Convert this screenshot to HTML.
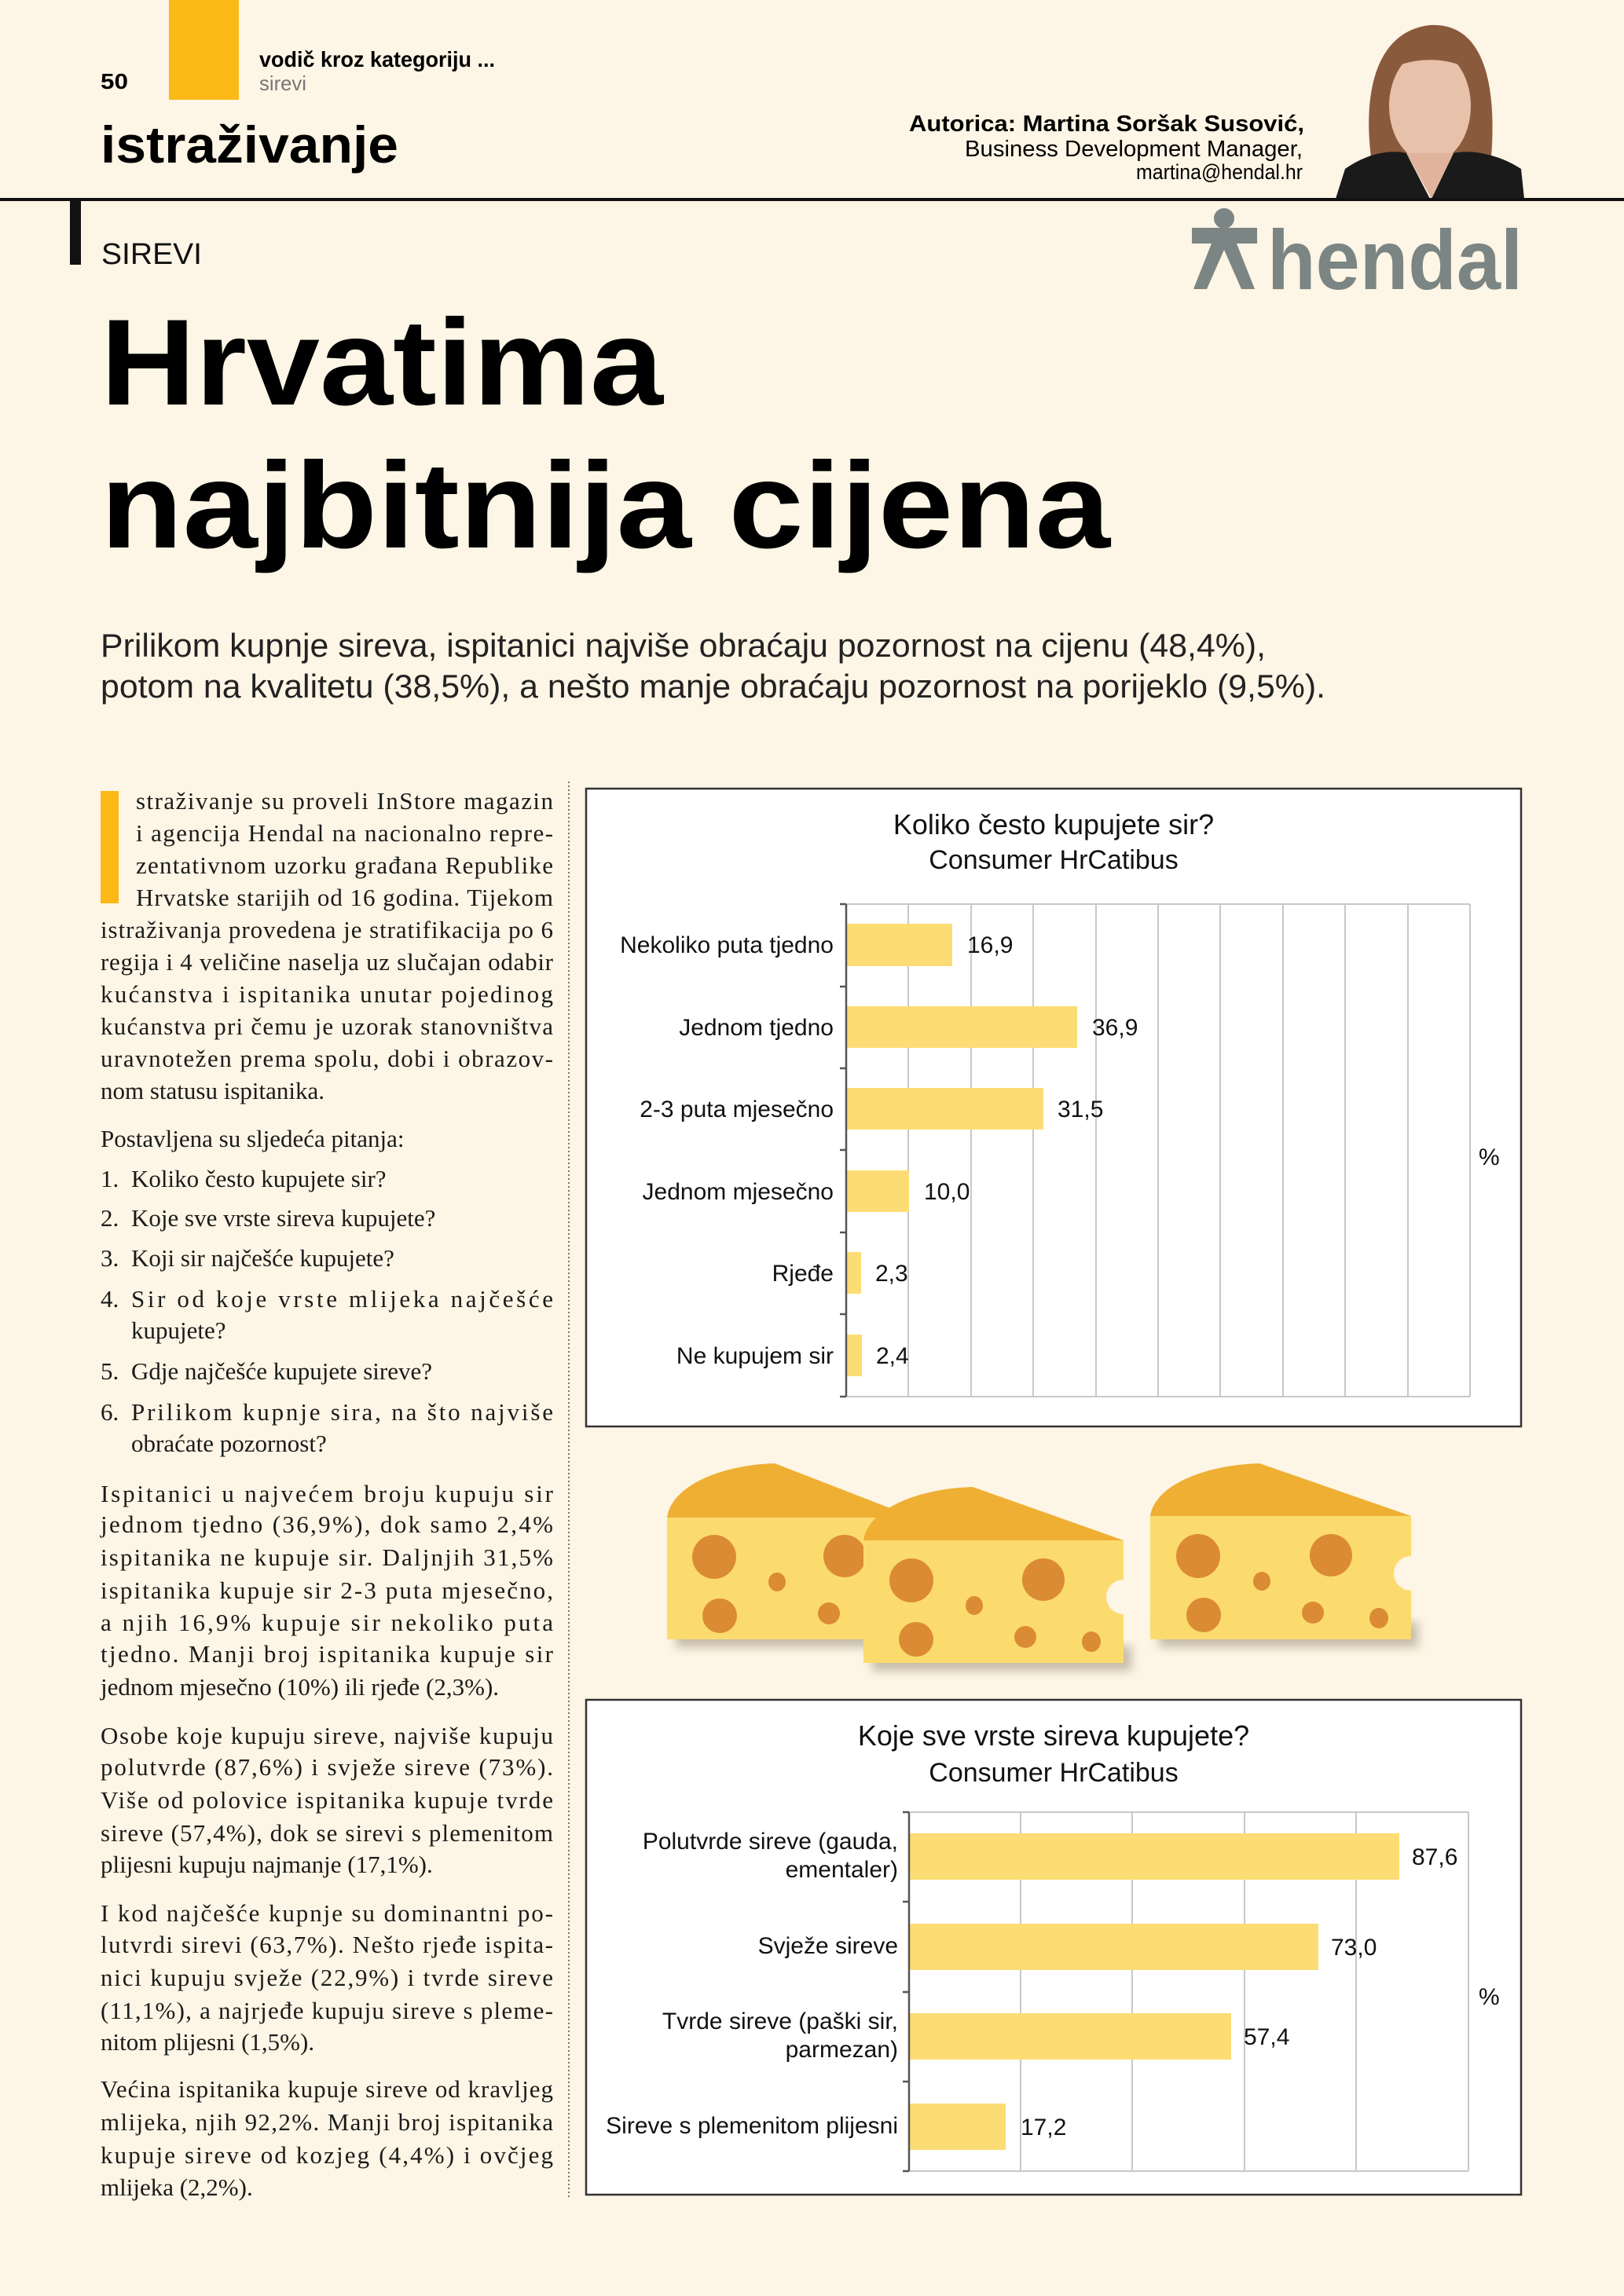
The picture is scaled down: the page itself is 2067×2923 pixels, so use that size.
<!DOCTYPE html>
<html><head><meta charset="utf-8"><style>
html,body{margin:0;padding:0;background:#fdf5e5;}
svg{display:block}
.s{font-family:"Liberation Sans",sans-serif}
.b{font-family:"Liberation Serif",serif;font-size:31px;fill:#1a1a1a}
.cl{font-family:"Liberation Sans",sans-serif;font-size:30px;fill:#111}
</style></head><body>
<svg width="2067" height="2923" viewBox="0 0 2067 2923" xmlns="http://www.w3.org/2000/svg">
<rect width="2067" height="2923" fill="#fdf5e5"/>
<defs><filter id="sh" x="-20%" y="-20%" width="140%" height="160%"><feGaussianBlur stdDeviation="6"/></filter></defs>
<!-- header -->
<rect x="215" y="0" width="89" height="127" fill="#fbb917"/>
<text class="s" x="128" y="113" font-size="28" font-weight="bold" textLength="35" lengthAdjust="spacingAndGlyphs">50</text>
<text class="s" x="330" y="85" font-size="28" font-weight="bold" textLength="300" lengthAdjust="spacingAndGlyphs">vodič kroz kategoriju ...</text>
<text class="s" x="330" y="115" font-size="26" fill="#777" textLength="60" lengthAdjust="spacingAndGlyphs">sirevi</text>
<text class="s" x="128" y="207" font-size="66" font-weight="bold" textLength="379" lengthAdjust="spacingAndGlyphs">istraživanje</text>
<text class="s" x="1660" y="167" font-size="29" font-weight="bold" text-anchor="end" textLength="503" lengthAdjust="spacingAndGlyphs">Autorica: Martina Soršak Susović,</text>
<text class="s" x="1658" y="199" font-size="29" text-anchor="end" textLength="430" lengthAdjust="spacingAndGlyphs">Business Development Manager,</text>
<text class="s" x="1658" y="228" font-size="27" text-anchor="end" textLength="212" lengthAdjust="spacingAndGlyphs">martina@hendal.hr</text>
<!-- photo -->
<g>
<path d="M1745 200 C1735 120 1750 40 1820 32 C1890 28 1905 110 1898 200 Z" fill="#8a5a3c"/>
<ellipse cx="1820" cy="135" rx="52" ry="72" fill="#e8c1aa"/>
<path d="M1760 95 C1770 45 1870 40 1880 95 C1850 70 1790 70 1760 95Z" fill="#8a5a3c"/>
<path d="M1700 253 L1712 215 C1740 195 1770 190 1790 195 L1820 253 Z" fill="#1a1a1a"/>
<path d="M1940 253 L1936 215 C1905 195 1870 190 1850 195 L1822 253 Z" fill="#1a1a1a"/>
<path d="M1790 195 L1850 195 L1822 253 Z" fill="#e0b49c"/>
</g>
<rect x="0" y="252" width="2067" height="4" fill="#111"/>
<rect x="89" y="256" width="14" height="81" fill="#111"/>
<text class="s" x="129" y="336" font-size="38" textLength="128" lengthAdjust="spacingAndGlyphs" fill="#111">SIREVI</text>
<!-- hendal -->
<g fill="#7b8583">
<circle cx="1558" cy="278" r="13"/>
<rect x="1517" y="290" width="83" height="20"/>
<path d="M1546 300 L1570 300 L1597 368 L1580 368 L1558 318 L1536 368 L1519 368 Z"/>
<text class="s" x="1613" y="368" font-size="108" font-weight="bold" textLength="325" lengthAdjust="spacingAndGlyphs">hendal</text>
</g>
<!-- title -->
<text class="s" x="128" y="515" font-size="156" font-weight="bold" textLength="716" lengthAdjust="spacingAndGlyphs" fill="#000">Hrvatima</text>
<text class="s" x="128" y="697" font-size="156" font-weight="bold" textLength="1285" lengthAdjust="spacingAndGlyphs" fill="#000">najbitnija cijena</text>
<text class="s" x="128" y="836" font-size="42" textLength="1483" lengthAdjust="spacingAndGlyphs" fill="#222">Prilikom kupnje sireva, ispitanici najviše obraćaju pozornost na cijenu (48,4%),</text>
<text class="s" x="128" y="888" font-size="42" textLength="1559" lengthAdjust="spacingAndGlyphs" fill="#222">potom na kvalitetu (38,5%), a nešto manje obraćaju pozornost na porijeklo (9,5%).</text>
<!-- body column -->
<rect x="128" y="1007" width="23" height="143" fill="#fbb917"/>
<line x1="724" y1="995" x2="724" y2="2800" stroke="#777" stroke-width="2" stroke-dasharray="2,3"/>
<g class="b">
<text x="173" y="1030" textLength="531" lengthAdjust="spacing">straživanje su proveli InStore magazin</text>
<text x="173" y="1071" textLength="531" lengthAdjust="spacing">i agencija Hendal na nacionalno repre-</text>
<text x="173" y="1112" textLength="531" lengthAdjust="spacing">zentativnom uzorku građana Republike</text>
<text x="173" y="1153" textLength="531" lengthAdjust="spacing">Hrvatske starijih od 16 godina. Tijekom</text>
<text x="128" y="1194" textLength="576" lengthAdjust="spacing">istraživanja provedena je stratifikacija po 6</text>
<text x="128" y="1235" textLength="576" lengthAdjust="spacing">regija i 4 veličine naselja uz slučajan odabir</text>
<text x="128" y="1276" textLength="576" lengthAdjust="spacing">kućanstva i ispitanika unutar pojedinog</text>
<text x="128" y="1317" textLength="576" lengthAdjust="spacing">kućanstva pri čemu je uzorak stanovništva</text>
<text x="128" y="1358" textLength="576" lengthAdjust="spacing">uravnotežen prema spolu, dobi i obrazov-</text>
<text x="128" y="1399">nom statusu ispitanika.</text>
<text x="128" y="1460">Postavljena su sljedeća pitanja:</text>
<text x="128" y="1511">1.</text><text x="167" y="1511">Koliko često kupujete sir?</text>
<text x="128" y="1561">2.</text><text x="167" y="1561">Koje sve vrste sireva kupujete?</text>
<text x="128" y="1612">3.</text><text x="167" y="1612">Koji sir najčešće kupujete?</text>
<text x="128" y="1664">4.</text><text x="167" y="1664" textLength="537" lengthAdjust="spacing">Sir od koje vrste mlijeka najčešće</text>
<text x="167" y="1704">kupujete?</text>
<text x="128" y="1756">5.</text><text x="167" y="1756">Gdje najčešće kupujete sireve?</text>
<text x="128" y="1808">6.</text><text x="167" y="1808" textLength="537" lengthAdjust="spacing">Prilikom kupnje sira, na što najviše</text>
<text x="167" y="1848">obraćate pozornost?</text>

<text x="128" y="1912" textLength="576" lengthAdjust="spacing">Ispitanici u najvećem broju kupuju sir</text>
<text x="128" y="1951" textLength="576" lengthAdjust="spacing">jednom tjedno (36,9%), dok samo 2,4%</text>
<text x="128" y="1993" textLength="576" lengthAdjust="spacing">ispitanika ne kupuje sir. Daljnjih 31,5%</text>
<text x="128" y="2035" textLength="576" lengthAdjust="spacing">ispitanika kupuje sir 2-3 puta mjesečno,</text>
<text x="128" y="2076" textLength="576" lengthAdjust="spacing">a njih 16,9% kupuje sir nekoliko puta</text>
<text x="128" y="2116" textLength="576" lengthAdjust="spacing">tjedno. Manji broj ispitanika kupuje sir</text>
<text x="128" y="2158">jednom mjesečno (10%) ili rjeđe (2,3%).</text>

<text x="128" y="2220" textLength="576" lengthAdjust="spacing">Osobe koje kupuju sireve, najviše kupuju</text>
<text x="128" y="2260" textLength="576" lengthAdjust="spacing">polutvrde (87,6%) i svježe sireve (73%).</text>
<text x="128" y="2302" textLength="576" lengthAdjust="spacing">Više od polovice ispitanika kupuje tvrde</text>
<text x="128" y="2344" textLength="576" lengthAdjust="spacing">sireve (57,4%), dok se sirevi s plemenitom</text>
<text x="128" y="2384">plijesni kupuju najmanje (17,1%).</text>

<text x="128" y="2446" textLength="576" lengthAdjust="spacing">I kod najčešće kupnje su dominantni po-</text>
<text x="128" y="2486" textLength="576" lengthAdjust="spacing">lutvrdi sirevi (63,7%). Nešto rjeđe ispita-</text>
<text x="128" y="2528" textLength="576" lengthAdjust="spacing">nici kupuju svježe (22,9%) i tvrde sireve</text>
<text x="128" y="2570" textLength="576" lengthAdjust="spacing">(11,1%), a najrjeđe kupuju sireve s pleme-</text>
<text x="128" y="2610">nitom plijesni (1,5%).</text>

<text x="128" y="2670" textLength="576" lengthAdjust="spacing">Većina ispitanika kupuje sireve od kravljeg</text>
<text x="128" y="2712" textLength="576" lengthAdjust="spacing">mlijeka, njih 92,2%. Manji broj ispitanika</text>
<text x="128" y="2754" textLength="576" lengthAdjust="spacing">kupuje sireve od kozjeg (4,4%) i ovčjeg</text>
<text x="128" y="2795">mlijeka (2,2%).</text>
</g>

<!-- chart 1 -->
<rect x="746" y="1004" width="1190" height="812" fill="#fff" stroke="#333" stroke-width="2.5"/>
<text class="s" x="1341" y="1062" font-size="36" text-anchor="middle" fill="#111">Koliko često kupujete sir?</text>
<text class="s" x="1341" y="1106" font-size="34" text-anchor="middle" fill="#111">Consumer HrCatibus</text>
<g stroke="#c8c8c8" stroke-width="2">
<line x1="1156" y1="1151" x2="1156" y2="1778"/><line x1="1236" y1="1151" x2="1236" y2="1778"/>
<line x1="1315" y1="1151" x2="1315" y2="1778"/><line x1="1395" y1="1151" x2="1395" y2="1778"/>
<line x1="1474" y1="1151" x2="1474" y2="1778"/><line x1="1553" y1="1151" x2="1553" y2="1778"/>
<line x1="1633" y1="1151" x2="1633" y2="1778"/><line x1="1712" y1="1151" x2="1712" y2="1778"/>
<line x1="1792" y1="1151" x2="1792" y2="1778"/><line x1="1871" y1="1151" x2="1871" y2="1778"/>
<line x1="1077" y1="1151" x2="1871" y2="1151"/><line x1="1077" y1="1778" x2="1871" y2="1778"/>
</g>
<g fill="#fcdc74">
<rect x="1078" y="1176" width="134" height="54"/>
<rect x="1078" y="1281" width="293" height="53"/>
<rect x="1078" y="1385" width="250" height="53"/>
<rect x="1078" y="1490" width="79" height="53"/>
<rect x="1078" y="1594" width="18" height="53"/>
<rect x="1078" y="1699" width="19" height="53"/>
</g>
<g stroke="#555" stroke-width="2.5">
<line x1="1077" y1="1151" x2="1077" y2="1778"/>
<line x1="1069" y1="1151" x2="1077" y2="1151"/><line x1="1069" y1="1256" x2="1077" y2="1256"/>
<line x1="1069" y1="1360" x2="1077" y2="1360"/><line x1="1069" y1="1464" x2="1077" y2="1464"/>
<line x1="1069" y1="1569" x2="1077" y2="1569"/><line x1="1069" y1="1673" x2="1077" y2="1673"/>
<line x1="1069" y1="1778" x2="1077" y2="1778"/>
</g>
<g class="cl" text-anchor="end">
<text x="1061" y="1213">Nekoliko puta tjedno</text>
<text x="1061" y="1318">Jednom tjedno</text>
<text x="1061" y="1422">2-3 puta mjesečno</text>
<text x="1061" y="1527">Jednom mjesečno</text>
<text x="1061" y="1631">Rjeđe</text>
<text x="1061" y="1736">Ne kupujem sir</text>
</g>
<g class="cl">
<text x="1231" y="1213">16,9</text>
<text x="1390" y="1318">36,9</text>
<text x="1346" y="1422">31,5</text>
<text x="1176" y="1527">10,0</text>
<text x="1114" y="1631">2,3</text>
<text x="1115" y="1736">2,4</text>
<text x="1882" y="1483">%</text>
</g>

<!-- cheeses -->
<g>
<rect x="860" y="2065" width="300" height="32" fill="#b8ae9a" filter="url(#sh)" opacity="0.8"/>
<rect x="1110" y="2095" width="330" height="32" fill="#b8ae9a" filter="url(#sh)" opacity="0.8"/>
<rect x="1475" y="2065" width="330" height="32" fill="#b8ae9a" filter="url(#sh)" opacity="0.8"/>
<!-- cheese1 -->
<path d="M849 1932 C855 1890 920 1865 986 1863 L1164 1932 Z" fill="#eeaf33"/>
<rect x="849" y="1932" width="315" height="155" fill="#fcdb6e"/>
<g fill="#db8b33"><ellipse cx="909" cy="1982" rx="28" ry="28"/><ellipse cx="989" cy="2014" rx="11" ry="12"/><ellipse cx="916" cy="2057" rx="22" ry="22"/><ellipse cx="1055" cy="2054" rx="14" ry="14"/><ellipse cx="1075" cy="1981" rx="27" ry="27"/></g>
<!-- cheese2 -->
<path d="M1099 1961 C1105 1920 1170 1895 1238 1893 L1430 1961 Z" fill="#eeaf33"/>
<path d="M1099 1961 H1430 V2011 A22 22 0 0 0 1430 2055 V2117 H1099 Z" fill="#fcdb6e"/>
<g fill="#db8b33"><ellipse cx="1160" cy="2012" rx="28" ry="28"/><ellipse cx="1328" cy="2011" rx="27" ry="27"/><ellipse cx="1240" cy="2044" rx="11" ry="12"/><ellipse cx="1166" cy="2087" rx="22" ry="22"/><ellipse cx="1305" cy="2084" rx="14" ry="14"/><ellipse cx="1389" cy="2090" rx="12" ry="13"/></g>
<!-- cheese3 -->
<path d="M1464 1930 C1470 1890 1535 1865 1603 1863 L1796 1930 Z" fill="#eeaf33"/>
<path d="M1464 1930 H1796 V1981 A22 22 0 0 0 1796 2025 V2087 H1464 Z" fill="#fcdb6e"/>
<g fill="#db8b33"><ellipse cx="1525" cy="1981" rx="28" ry="28"/><ellipse cx="1694" cy="1980" rx="27" ry="27"/><ellipse cx="1606" cy="2013" rx="11" ry="12"/><ellipse cx="1532" cy="2056" rx="22" ry="22"/><ellipse cx="1671" cy="2053" rx="14" ry="14"/><ellipse cx="1755" cy="2060" rx="12" ry="13"/></g>
</g>

<!-- chart 2 -->
<rect x="746" y="2164" width="1190" height="630" fill="#fff" stroke="#333" stroke-width="2.5"/>
<text class="s" x="1341" y="2222" font-size="36" text-anchor="middle" fill="#111">Koje sve vrste sireva kupujete?</text>
<text class="s" x="1341" y="2268" font-size="34" text-anchor="middle" fill="#111">Consumer HrCatibus</text>
<g stroke="#c8c8c8" stroke-width="2">
<line x1="1299" y1="2307" x2="1299" y2="2764"/><line x1="1441" y1="2307" x2="1441" y2="2764"/>
<line x1="1584" y1="2307" x2="1584" y2="2764"/><line x1="1726" y1="2307" x2="1726" y2="2764"/>
<line x1="1869" y1="2307" x2="1869" y2="2764"/>
<line x1="1157" y1="2307" x2="1869" y2="2307"/><line x1="1157" y1="2764" x2="1869" y2="2764"/>
</g>
<g fill="#fcdc74">
<rect x="1158" y="2334" width="623" height="59"/>
<rect x="1158" y="2449" width="520" height="59"/>
<rect x="1158" y="2563" width="409" height="59"/>
<rect x="1158" y="2678" width="122" height="59"/>
</g>
<g stroke="#555" stroke-width="2.5">
<line x1="1157" y1="2307" x2="1157" y2="2764"/>
<line x1="1149" y1="2307" x2="1157" y2="2307"/><line x1="1149" y1="2421" x2="1157" y2="2421"/>
<line x1="1149" y1="2536" x2="1157" y2="2536"/><line x1="1149" y1="2650" x2="1157" y2="2650"/>
<line x1="1149" y1="2764" x2="1157" y2="2764"/>
</g>
<g class="cl" text-anchor="end">
<text x="1143" y="2354">Polutvrde sireve (gauda,</text>
<text x="1143" y="2390">ementaler)</text>
<text x="1143" y="2487">Svježe sireve</text>
<text x="1143" y="2583">Tvrde sireve (paški sir,</text>
<text x="1143" y="2619">parmezan)</text>
<text x="1143" y="2716">Sireve s plemenitom plijesni</text>
</g>
<g class="cl">
<text x="1797" y="2374">87,6</text>
<text x="1694" y="2489">73,0</text>
<text x="1583" y="2603">57,4</text>
<text x="1299" y="2718">17,2</text>
<text x="1882" y="2552">%</text>
</g>
</svg>
</body></html>
